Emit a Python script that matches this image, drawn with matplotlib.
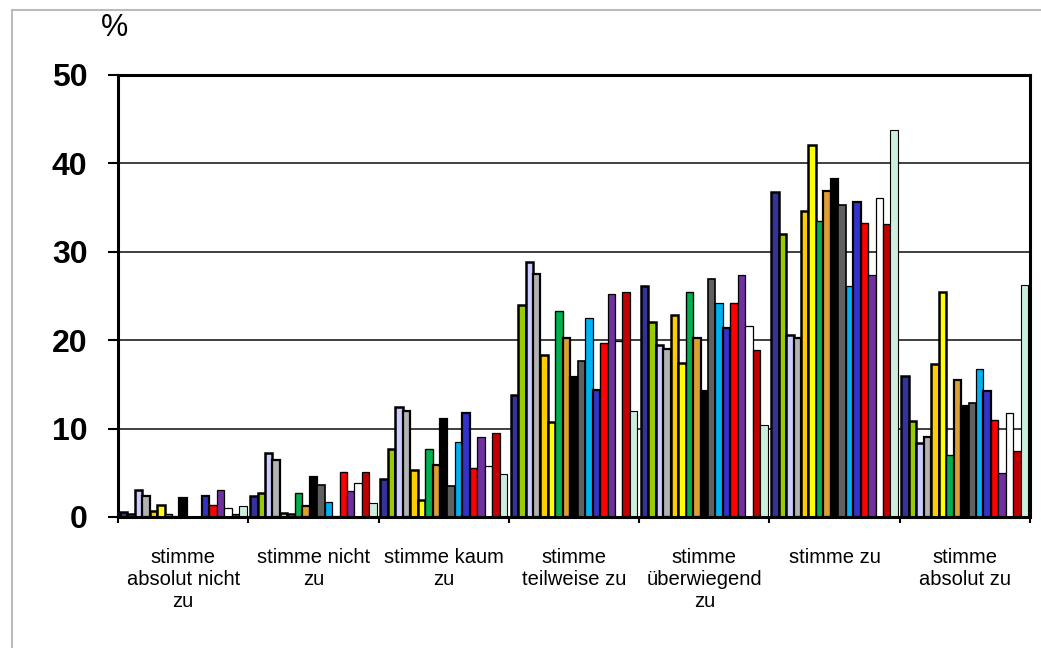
import numpy as np
import matplotlib
matplotlib.use("Agg")
import matplotlib.pyplot as plt
from matplotlib.lines import Line2D

plt.rcParams['font.family'] = ['Liberation Sans', 'DejaVu Sans']

# answer categories (x axis)
kategorien = ["stimme\nabsolut nicht\nzu", "stimme nicht\nzu", "stimme kaum\nzu",
	"stimme\nteilweise zu", "stimme\nüberwiegend\nzu", "stimme zu", "stimme\nabsolut zu"]

# percentages per category, one value per group (17 groups)
absolut_nicht = [0.6, 0.3, 3.1, 2.4, 0.7, 1.3, 0.35, 0.0, 2.2, 0.0, 0.0, 2.4, 1.4, 3.0, 1.0, 0.35, 1.2]
nicht = [2.4, 2.75, 7.2, 6.5, 0.5, 0.3, 2.75, 1.2, 4.55, 3.6, 1.75, 0.0, 5.1, 2.95, 3.8, 5.1, 1.6]
kaum = [4.3, 7.65, 12.4, 12.0, 5.3, 1.9, 7.65, 5.9, 11.1, 3.5, 8.5, 11.8, 5.5, 9.1, 5.75, 9.5, 4.85]
teilweise = [13.75, 24.0, 28.8, 27.5, 18.3, 10.75, 23.3, 20.3, 15.85, 17.7, 22.5, 14.4, 19.7, 25.2, 19.9, 25.4, 11.95]
ueberwiegend = [26.1, 22.0, 19.4, 19.05, 22.8, 17.4, 25.4, 20.2, 14.2, 26.9, 24.2, 21.4, 24.2, 27.35, 21.6, 18.85, 10.4]
zu = [36.8, 32.05, 20.55, 20.2, 34.6, 42.1, 33.5, 36.85, 38.25, 35.3, 26.15, 35.65, 33.3, 27.35, 36.1, 33.1, 43.8]
absolut_zu = [16.0, 10.9, 8.4, 9.0, 17.25, 25.4, 7.0, 15.5, 12.6, 12.9, 16.7, 14.3, 11.0, 5.0, 11.8, 7.45, 26.2]

farben = ['#333399', '#99CC00', '#CCCCFF', '#B2B2B2', '#FFCC00', '#FFFF00', '#00B050', '#DDA030',
	'#000000', '#606060', '#00B0F0', '#3333CC', '#FF0000', '#7030A0', '#FFFFFF', '#C00000', '#CCEEDD']
randbreite = [1.8, 1.8, 1.8, 1.6, 1.8, 1.8, 1.0, 1.6, 1.6, 1.2, 0.9, 1.6, 1.0, 0.9, 0.9, 0.9, 0.8]


def plot_balken(ax):
	werte = np.array([absolut_nicht, nicht, kaum, teilweise, ueberwiegend, zu, absolut_zu])
	x = np.arange(len(kategorien))
	n = werte.shape[1]
	breite = 0.0572
	for i in range(n):
		ax.bar(x + (i - (n - 1) / 2.0) * breite, werte[:, i], breite,
			color=farben[i], edgecolor='black', linewidth=randbreite[i], zorder=3)


fig = plt.figure(figsize=(10.41, 6.48), dpi=100)
ax = fig.add_axes([0.1134, 0.2022, 0.8760, 0.6821])
plot_balken(ax)

ax.set_xlim(-0.5, 6.5)
ax.set_ylim(0, 50)
ax.set_yticks([0, 10, 20, 30, 40, 50])
ax.yaxis.grid(True, color='#303030', linewidth=1.3, zorder=0)
ax.set_axisbelow(True)
for lbl in ax.get_yticklabels():
	lbl.set_fontweight('bold')
ax.tick_params(axis='y', labelsize=23, length=7, width=1.5, pad=15, direction='out')

ax.set_xticks(np.arange(len(kategorien)))
ax.set_xticklabels(kategorien, fontsize=14.5, linespacing=1.22)
ax.set_xticks(np.arange(len(kategorien) + 1) - 0.5, minor=True)
ax.tick_params(axis='x', which='major', length=0, pad=22)
ax.tick_params(axis='x', which='minor', length=4, width=1.5, direction='out')

for s in ax.spines.values():
	s.set_linewidth(2.2)
	s.set_color('black')
	s.set_zorder(4)

fig.text(114 / 1041.0, 1 - 28 / 648.0, '%', ha='center', va='center', fontsize=22)

# light frame around the chart
fig.add_artist(Line2D([12 / 1041.0, 12 / 1041.0], [0.0, 1 - 10 / 648.0], color='#BBBBBB', linewidth=1.5))
fig.add_artist(Line2D([12 / 1041.0, 1.0], [1 - 10 / 648.0, 1 - 10 / 648.0], color='#BBBBBB', linewidth=1.5))

plt.savefig('out.png', dpi=100)
